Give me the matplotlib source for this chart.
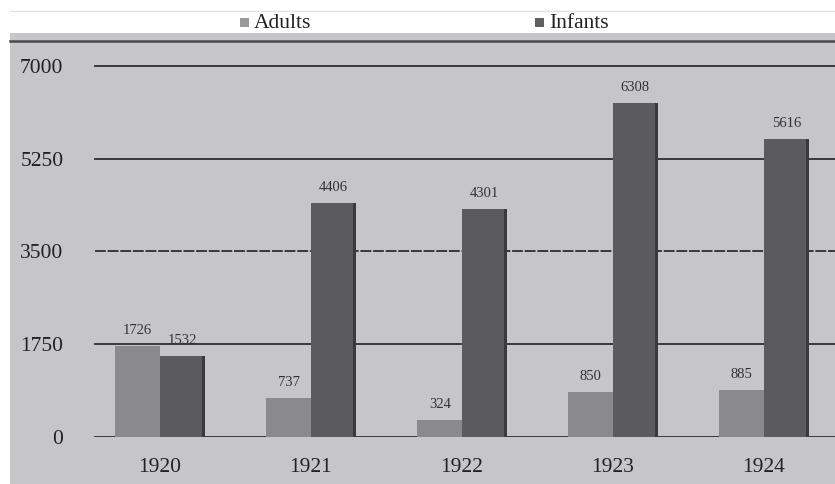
import matplotlib.pyplot as plt
from matplotlib.patches import Rectangle
from matplotlib.lines import Line2D
import numpy as np

years = ['1920', '1921', '1922', '1923', '1924']
adults = [1726, 737, 324, 850, 885]
infants = [1532, 4406, 4301, 6308, 5616]
yticks = [0, 1750, 3500, 5250, 7000]

W, H = 835, 484
bg = '#c6c6c8'
c_adult = '#8a8a8c'
c_inf = '#5b5b5d'

plt.rcParams['font.family'] = ['Liberation Serif', 'DejaVu Serif']

fig = plt.figure(figsize=(W / 100, H / 100), dpi=100)
fig.patch.set_facecolor('white')

# grey band behind the plot
fig.patches.append(Rectangle((10 / W, 0), 1 - 10 / W, 1 - 33 / H, transform=fig.transFigure,
                             facecolor=bg, edgecolor='none', zorder=-10))
fig.lines.append(Line2D([10 / W, 1], [1 - 11 / H] * 2, transform=fig.transFigure,
                        color='#e2e2e2', lw=1))
fig.lines.append(Line2D([10 / W, 1], [1 - 41 / H] * 2, transform=fig.transFigure,
                        color='#4a4a4a', lw=1.8))

# legend
for x, lab, col in [(245, 'Adults', '#9a9a9c'), (540, 'Infants', '#606062')]:
    fig.patches.append(Rectangle(((x - 5) / W, 1 - 27 / H), 9 / W, 9 / H, transform=fig.transFigure,
                                 facecolor=col, edgecolor='none'))
    fig.text((x + 9) / W, 1 - 24 / H, lab, fontsize=15.5, va='center', ha='left', color='#222222')

# axes: bottom at y=0 (px 437), top at px 41
ax = fig.add_axes([80 / W, 1 - 437 / H, 1 - 80 / W, (437 - 41) / H], zorder=1)
ax.patch.set_alpha(0)
ymax = 7000 * (437 - 41) / (437 - 66)
ax.set_ylim(0, ymax)
ax.set_xlim(-0.53, 4.47)

x = np.arange(len(years))
bw = 0.295
ax.bar(x - bw / 2, adults, bw, color=c_adult, zorder=3)
ax.bar(x + bw / 2, infants, bw, color=c_inf, zorder=3)
# dark right edge on infants bars
ax.bar(x + bw - 0.01, infants, 0.02, color='#3a3a3a', zorder=3)

for v in yticks:
    ls = (0, (6, 1)) if v == 3500 else '-'
    ax.axhline(v, xmin=0.02, color='#2e2e2e', lw=1.3, ls=ls, zorder=2)

for i in range(len(years)):
    ax.text(x[i] - bw / 2, adults[i] + 170, str(adults[i]), ha='center', va='bottom',
            fontsize=10.5, color='#333333', zorder=4)
    ax.text(x[i] + bw / 2, infants[i] + 170, str(infants[i]), ha='center', va='bottom',
            fontsize=10.5, color='#333333', zorder=4)

ax.set_yticks(yticks)
ax.set_yticklabels([str(v) for v in yticks], fontsize=15.5, color='#222222')
ax.set_xticks(x)
ax.set_xticklabels(years, fontsize=15.5, color='#222222')
ax.tick_params(axis='y', length=0, pad=12)
ax.tick_params(axis='x', length=0, pad=15)
for s in ax.spines.values():
    s.set_visible(False)

fig.savefig('out.png', dpi=100, facecolor=fig.get_facecolor())
